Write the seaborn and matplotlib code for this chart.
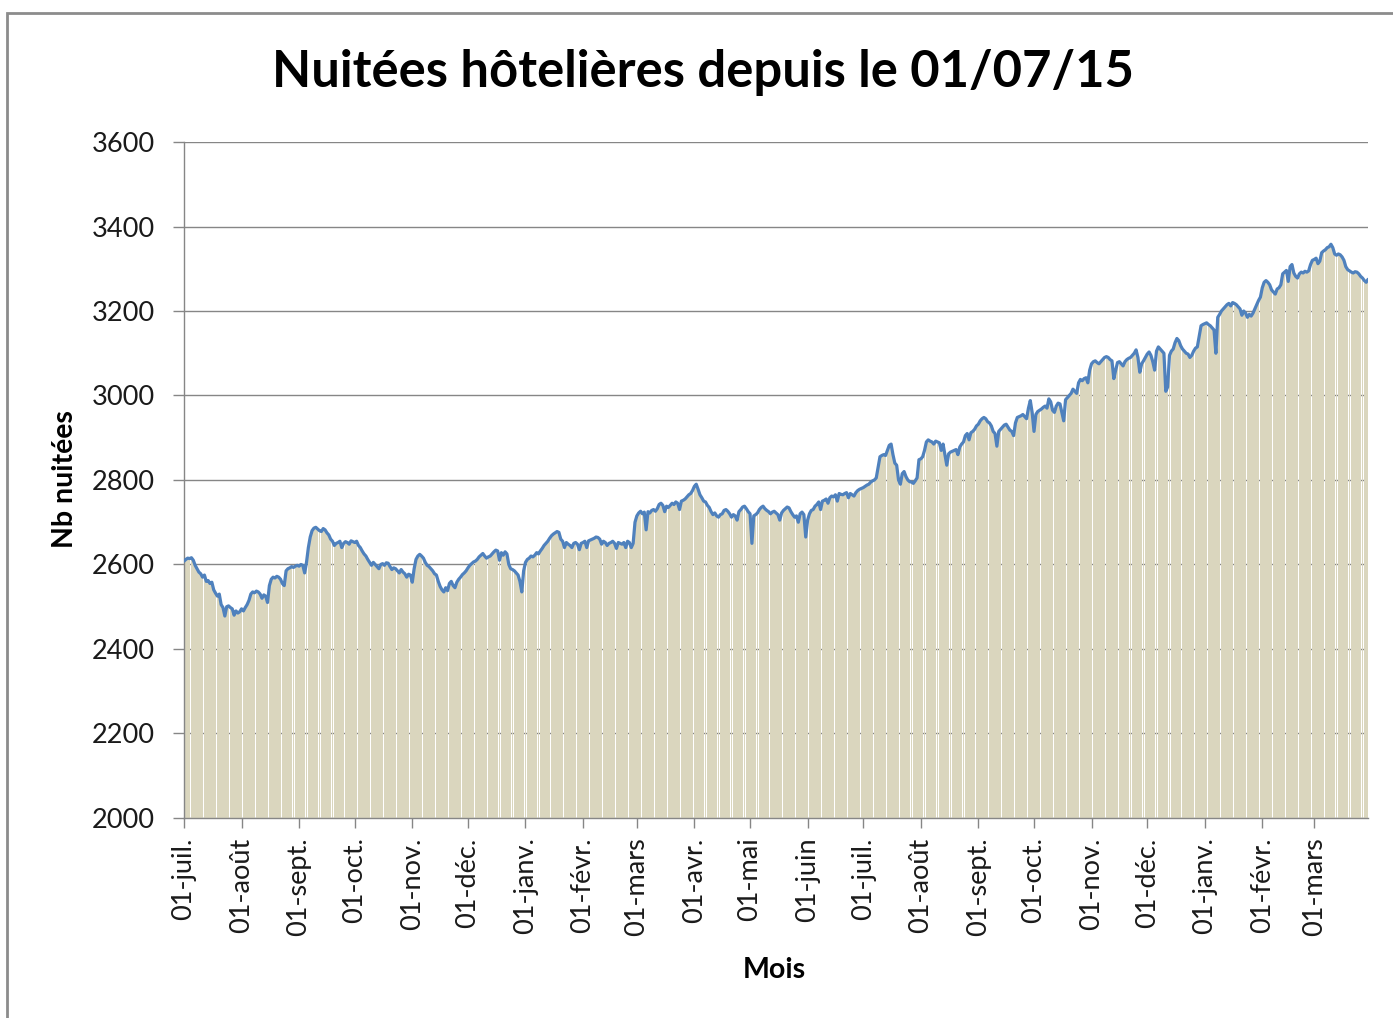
import numpy as np
import matplotlib
matplotlib.use('Agg')
import matplotlib.pyplot as plt
import seaborn as sns
from matplotlib.patches import Rectangle

# daily values (nuitées), one list per month, from 01/07/15
jul15 = [2608, 2612, 2615, 2614, 2616, 2610, 2598, 2590, 2582, 2578,
         2570, 2575, 2560, 2562, 2555, 2558, 2540, 2532, 2525, 2530,
         2505, 2498, 2478, 2500, 2502, 2498, 2495, 2480, 2490, 2485,
         2488]
aug15 = [2495, 2490, 2498, 2505, 2515, 2530, 2535, 2533, 2537, 2535,
         2530, 2520, 2528, 2525, 2510, 2550, 2565, 2570, 2568, 2572,
         2570, 2565, 2555, 2550, 2585, 2590, 2592, 2595, 2593, 2596,
         2598]
sep15 = [2596, 2600, 2598, 2580, 2605, 2640, 2665, 2680, 2686, 2688,
         2684, 2680, 2678, 2685, 2682, 2675, 2670, 2660, 2655, 2645,
         2650, 2652, 2655, 2640, 2650, 2654, 2652, 2648, 2656, 2654]
oct15 = [2652, 2655, 2645, 2640, 2632, 2625, 2620, 2612, 2605, 2598,
         2605, 2600, 2595, 2590, 2600, 2602, 2598, 2604, 2603, 2595,
         2588, 2592, 2590, 2585, 2580, 2588, 2582, 2578, 2570, 2577,
         2575]
nov15 = [2558, 2590, 2612, 2620, 2624, 2620, 2615, 2605, 2598, 2595,
         2590, 2585, 2578, 2575, 2560, 2548, 2540, 2535, 2545, 2538,
         2555, 2560, 2550, 2545, 2558, 2565, 2570, 2576, 2580, 2585]
dec15 = [2592, 2598, 2602, 2606, 2608, 2612, 2618, 2622, 2626, 2620,
         2615, 2618, 2620, 2625, 2630, 2634, 2632, 2610, 2628, 2622,
         2630, 2625, 2600, 2590, 2588, 2585, 2580, 2575, 2560, 2535,
         2585]
jan16 = [2605, 2612, 2615, 2620, 2618, 2622, 2628, 2625, 2632, 2638,
         2645, 2650, 2655, 2662, 2668, 2672, 2675, 2678, 2676, 2660,
         2655, 2640, 2652, 2648, 2645, 2640, 2650, 2652, 2648, 2635,
         2650]
feb16 = [2652, 2655, 2640, 2656, 2658, 2660, 2662, 2665, 2664, 2660,
         2648, 2655, 2652, 2645, 2650, 2652, 2655, 2650, 2638, 2652,
         2650, 2648, 2652, 2640, 2655, 2652, 2640, 2650, 2700]
mar16 = [2715, 2722, 2726, 2720, 2724, 2682, 2725, 2722, 2728, 2730,
         2726, 2732, 2742, 2745, 2740, 2725, 2738, 2735, 2740, 2745,
         2742, 2748, 2745, 2730, 2750, 2752, 2755, 2760, 2765, 2768,
         2775]
apr16 = [2785, 2790, 2778, 2765, 2758, 2750, 2748, 2740, 2735, 2725,
         2718, 2722, 2715, 2712, 2718, 2720, 2728, 2730, 2726, 2720,
         2712, 2718, 2715, 2705, 2725, 2730, 2736, 2738, 2732, 2725]
may16 = [2720, 2650, 2715, 2718, 2722, 2730, 2735, 2738, 2732, 2728,
         2725, 2720, 2724, 2726, 2722, 2718, 2705, 2722, 2728, 2732,
         2736, 2734, 2725, 2718, 2712, 2715, 2700, 2720, 2724, 2718,
         2665]
jun16 = [2705, 2720, 2728, 2730, 2738, 2742, 2748, 2730, 2750, 2752,
         2755, 2745, 2758, 2762, 2760, 2765, 2750, 2768, 2766, 2765,
         2768, 2770, 2758, 2768, 2765, 2762, 2770, 2775, 2778, 2780]
jul16 = [2782, 2785, 2788, 2790, 2795, 2798, 2800, 2805, 2830, 2855,
         2858, 2860, 2858, 2870, 2882, 2885, 2860, 2840, 2835, 2800,
         2790, 2815, 2820, 2808, 2800, 2796, 2795, 2792, 2798, 2805,
         2848]
aug16 = [2850, 2855, 2870, 2890, 2895, 2892, 2890, 2885, 2892, 2890,
         2888, 2870, 2885, 2860, 2835, 2862, 2866, 2868, 2870, 2872,
         2860, 2878, 2885, 2890, 2905, 2910, 2895, 2912, 2915, 2920,
         2928]
sep16 = [2932, 2940, 2945, 2948, 2945, 2938, 2935, 2928, 2915, 2910,
         2880, 2915, 2920, 2925, 2930, 2932, 2925, 2918, 2915, 2905,
         2935, 2948, 2950, 2952, 2955, 2950, 2945, 2970, 2988, 2960]
oct16 = [2915, 2955, 2962, 2965, 2968, 2972, 2975, 2970, 2992, 2985,
         2965, 2960, 2975, 2982, 2980, 2960, 2940, 2990, 2995, 3000,
         3005, 3015, 3010, 3005, 3030, 3038, 3035, 3040, 3042, 3030,
         3060]
nov16 = [3075, 3080, 3082, 3078, 3075, 3080, 3085, 3090, 3092, 3090,
         3085, 3082, 3040, 3060, 3078, 3080, 3075, 3070, 3080, 3085,
         3088, 3090, 3095, 3100, 3108, 3090, 3055, 3075, 3082, 3090]
dec16 = [3098, 3103, 3095, 3080, 3060, 3105, 3115, 3110, 3105, 3100,
         3010, 3020, 3095, 3105, 3110, 3125, 3135, 3130, 3118, 3110,
         3105, 3100, 3098, 3090, 3095, 3105, 3112, 3115, 3140, 3165,
         3168]
jan17 = [3170, 3172, 3168, 3165, 3160, 3155, 3100, 3185, 3192, 3200,
         3205, 3210, 3215, 3218, 3212, 3220, 3218, 3215, 3210, 3205,
         3190, 3200, 3195, 3185, 3192, 3188, 3195, 3205, 3215, 3225,
         3233]
feb17 = [3255, 3268, 3272, 3268, 3262, 3250, 3245, 3240, 3252, 3255,
         3262, 3288, 3292, 3296, 3270, 3305, 3310, 3290, 3282, 3278,
         3288, 3292, 3290, 3294, 3292, 3295, 3310, 3320]
mar17 = [3322, 3325, 3312, 3318, 3338, 3342, 3345, 3350, 3352, 3358,
         3350, 3335, 3332, 3335, 3333, 3328, 3320, 3305, 3298, 3295,
         3292, 3290, 3293, 3292, 3288, 3282, 3278, 3272, 3268, 3275]

months = [jul15, aug15, sep15, oct15, nov15, dec15, jan16, feb16, mar16,
          apr16, may16, jun16, jul16, aug16, sep16, oct16, nov16, dec16,
          jan17, feb17, mar17]
month_labels = ['01-juil.', '01-août', '01-sept.', '01-oct.', '01-nov.',
                '01-déc.', '01-janv.', '01-févr.', '01-mars', '01-avr.',
                '01-mai', '01-juin', '01-juil.', '01-août', '01-sept.',
                '01-oct.', '01-nov.', '01-déc.', '01-janv.', '01-févr.',
                '01-mars']

values = np.concatenate(months)
days = np.arange(len(values))
month_starts = np.cumsum([0] + [len(m) for m in months[:-1]])

sns.set_style('white')
plt.rcParams['font.family'] = ['Lato', 'DejaVu Sans']

fig = plt.figure(figsize=(13.93, 10.18), dpi=100)
ax = fig.add_axes([0.1321, 0.1965, 0.8500, 0.664])

# bars + line on top
ax.bar(days, values, width=0.9, color='#DAD6BE', linewidth=0, zorder=2)
sns.lineplot(x=days, y=values, ax=ax, color='#4F81BD', linewidth=2.3, zorder=3)

ax.set_xlim(0, len(values) - 1)
ax.set_ylim(2000, 3600)
ax.set_yticks(range(2000, 3601, 200))
ax.set_xticks(month_starts)
ax.set_xticklabels(month_labels, rotation=90)

ax.yaxis.grid(True, color='#868686', linewidth=1)
ax.xaxis.grid(False)
ax.set_axisbelow(True)

for side in ['top', 'right']:
    ax.spines[side].set_visible(False)
for side in ['left', 'bottom']:
    ax.spines[side].set_color('#868686')
    ax.spines[side].set_linewidth(1)

ax.tick_params(axis='y', length=8, width=1, color='#868686', pad=13,
               labelsize=19.5, labelcolor='#1a1a1a', left=True)
ax.tick_params(axis='x', length=7, width=1, color='#868686', pad=7,
               labelsize=19.5, labelcolor='#1a1a1a', bottom=True)
ax.set_xlabel('')
ax.set_ylabel('')

fig.text(0.505, 0.929, 'Nuitées hôtelières depuis le 01/07/15', ha='center',
         va='center', fontsize=36.5, fontweight='bold', color='black')
fig.text(0.0467, 0.529, 'Nb nuitées', rotation=90, ha='center', va='center',
         fontsize=20.5, fontweight='bold', color='black')
fig.text(0.5557, 0.0472, 'Mois', ha='center', va='center', fontsize=20.5,
         fontweight='bold', color='black')

# chart area border
fig.add_artist(Rectangle((0.005, -0.05), 1.2, 1.037, transform=fig.transFigure,
                         fill=False, edgecolor='#8c8c8c', linewidth=2))

fig.savefig('out.png', dpi=100)
